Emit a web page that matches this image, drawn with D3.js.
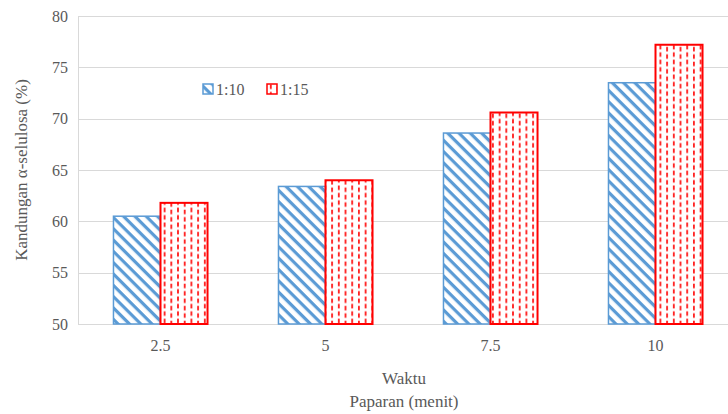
<!DOCTYPE html>
<html><head><meta charset="utf-8">
<script src="https://cdn.jsdelivr.net/npm/d3@7"></script></head><body style="margin:0">
<svg id="c" width="728" height="414"></svg>
<script>
const categories = ["2.5", "5", "7.5", "10"];
const seriesNames = ["1:10", "1:15"];
const series110 = [60.5, 63.4, 68.6, 73.5];
const series115 = [61.8, 64.0, 70.6, 77.2];
const yTicks = [50, 55, 60, 65, 70, 75, 80];

const svg = d3.select("#c");
const m = {l: 78, t: 16, r: -10, b: 90};
const W = 728, H = 414;
const x = d3.scaleBand().domain(categories).range([m.l, W - m.r]).paddingInner(0.43).paddingOuter(0.215);
const xs = d3.scaleBand().domain(seriesNames).range([0, x.bandwidth()]);
const y = d3.scaleLinear().domain([50, 80]).range([H - m.b, m.t]);
const grey = "#595959";
const FF = "Liberation Serif";

const defs = svg.append("defs");
const pb = defs.append("pattern").attr("id", "pBlue").attr("patternUnits", "userSpaceOnUse")
  .attr("width", 8).attr("height", 8).attr("patternTransform", "rotate(45)");
pb.append("rect").attr("width", 8).attr("height", 8).attr("fill", "#fff");
pb.append("rect").attr("x", 0).attr("y", 0).attr("width", 8).attr("height", 3.2).attr("fill", "#5B9BD5");
const pr = defs.append("pattern").attr("id", "pRed").attr("patternUnits", "userSpaceOnUse")
  .attr("width", 13.4).attr("height", 7.4);
pr.append("rect").attr("width", 13.4).attr("height", 7.4).attr("fill", "#fff");
pr.append("rect").attr("x", 3).attr("y", 0.5).attr("width", 1.6).attr("height", 4.5).attr("fill", "#FF0000");
pr.append("rect").attr("x", 9.7).attr("y", 2.5).attr("width", 1.6).attr("height", 4.5).attr("fill", "#FF0000");

// grid
svg.append("g").selectAll("line").data(yTicks).join("line")
  .attr("x1", m.l).attr("x2", W).attr("y1", d => Math.round(y(d)) + 0.5).attr("y2", d => Math.round(y(d)) + 0.5)
  .attr("stroke", "#d9d9d9").attr("stroke-width", 1);
svg.append("line").attr("x1", m.l + 0.5).attr("x2", m.l + 0.5).attr("y1", y(80)).attr("y2", y(50))
  .attr("stroke", "#d9d9d9");

// y axis labels
const ya = d3.axisLeft(y).tickValues(yTicks).tickSize(0).tickPadding(10);
const yg = svg.append("g").attr("transform", `translate(${m.l},0)`).call(ya);
yg.select(".domain").remove();
yg.attr("font-family", null).attr("font-size", null);
yg.selectAll("text").attr("font-family", FF).attr("font-size", 16).attr("fill", grey);

// x axis labels
const xa = d3.axisBottom(x).tickSize(0).tickPadding(16);
const xg = svg.append("g").attr("transform", `translate(0,${y(50)})`).call(xa);
xg.select(".domain").remove();
xg.attr("font-family", null).attr("font-size", null);
xg.selectAll("text").attr("font-family", FF).attr("font-size", 16).attr("fill", grey);

// bars
const data = [series110, series115];
const fills = ["url(#pBlue)", "url(#pRed)"];
const strokes = ["#5B9BD5", "#FF0000"];
const sw = [1.5, 2];
data.forEach((vals, si) => {
  svg.append("g").selectAll("rect").data(vals).join("rect")
    .attr("x", (d, i) => x(categories[i]) + xs(seriesNames[si]))
    .attr("y", d => y(d))
    .attr("width", xs.bandwidth())
    .attr("height", d => y(50) - y(d))
    .attr("fill", fills[si]).attr("stroke", strokes[si]).attr("stroke-width", sw[si]);
});

// legend
const lg = svg.append("g").attr("transform", "translate(203,84)");
seriesNames.forEach((n, i) => {
  const g = lg.append("g").attr("transform", `translate(${i * 64},0)`);
  g.append("rect").attr("x", 0).attr("y", 0).attr("width", 10).attr("height", 10)
    .attr("fill", fills[i]).attr("stroke", strokes[i]).attr("stroke-width", 1.5);
  g.append("text").attr("x", 13).attr("y", 10.5).text(n)
    .attr("font-family", FF).attr("font-size", 16).attr("fill", grey);
});

// titles
svg.append("text").attr("transform", `translate(27,${(y(50)+y(80))/2}) rotate(-90)`)
  .attr("text-anchor", "middle").attr("font-family", FF).attr("font-size", 17).attr("fill", grey)
  .text("Kandungan α-selulosa (%)");
svg.append("text").attr("x", 404).attr("y", 384).attr("text-anchor", "middle")
  .attr("font-family", FF).attr("font-size", 17).attr("fill", grey).text("Waktu");
svg.append("text").attr("x", 404).attr("y", 407).attr("text-anchor", "middle")
  .attr("font-family", FF).attr("font-size", 17).attr("fill", grey).text("Paparan (menit)");
</script>
</body></html>
